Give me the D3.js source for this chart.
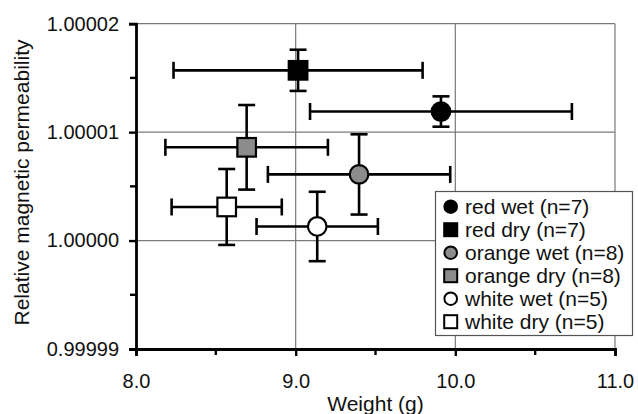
<!DOCTYPE html>
<html><head><meta charset="utf-8">
<script src="https://cdn.jsdelivr.net/npm/d3@7"></script>
<style>
body{margin:0;background:#fff;}
text{font-family:"Liberation Sans",Arial,Helvetica,sans-serif;}
</style></head>
<body><svg id="c" width="638" height="414"></svg>
<script>
const seriesNames = ["red wet (n=7)","red dry (n=7)","orange wet (n=8)","orange dry (n=8)","white wet (n=5)","white dry (n=5)"];
const shapes = ["circle","square","circle","square","circle","square"];
const fills = ["#000000","#000000","#8c8c8c","#8c8c8c","#ffffff","#ffffff"];
const weights = [9.91, 9.015, 9.397, 8.693, 9.135, 8.568];
const weightErr = [0.82, 0.78, 0.571, 0.509, 0.38, 0.345];
const perm = [1.0000119, 1.0000157, 1.0000061, 1.0000086, 1.0000013, 1.0000031];
const permErr = [0.0000014, 0.0000019, 0.0000037, 0.0000039, 0.0000032, 0.0000035];
const xTicks = [8.0, 9.0, 10.0, 11.0];
const xMinor = [8.5, 9.5, 10.5];
const yTicks = [0.99999, 1.00000, 1.00001, 1.00002];
const yMinor = [0.999995, 1.000005, 1.000015];

const svg = d3.select("#c");
const L = 136, R = 615, T = 23.7, B = 349;
const x = d3.scaleLinear().domain([8, 11]).range([L, R]);
const y = d3.scaleLinear().domain([0.99999, 1.00002]).range([B, T]);

// gridlines
const g = svg.append("g");
g.selectAll(".gx").data(xTicks.slice(1)).enter().append("line")
  .attr("x1", d => x(d)).attr("x2", d => x(d)).attr("y1", T).attr("y2", B)
  .attr("stroke", "#7a7a7a").attr("stroke-width", 1.2);
g.selectAll(".gy").data(yTicks.slice(1)).enter().append("line")
  .attr("x1", L).attr("x2", R).attr("y1", d => y(d)).attr("y2", d => y(d))
  .attr("stroke", "#7a7a7a").attr("stroke-width", 1.2);

const data = seriesNames.map((n, i) => ({n, shape: shapes[i], fill: fills[i], x: weights[i], xe: weightErr[i], y: perm[i], ye: permErr[i]}));
const cap = 8.5;
const eb = svg.append("g").attr("stroke", "#000").attr("stroke-width", 2.6).attr("fill", "none");
data.forEach(d => {
  const cx = x(d.x), cy = y(d.y);
  const x0 = x(d.x - d.xe), x1 = x(d.x + d.xe), y0 = y(d.y - d.ye), y1 = y(d.y + d.ye);
  eb.append("line").attr("x1", x0).attr("x2", x1).attr("y1", cy).attr("y2", cy);
  eb.append("line").attr("x1", x0).attr("x2", x0).attr("y1", cy - cap).attr("y2", cy + cap);
  eb.append("line").attr("x1", x1).attr("x2", x1).attr("y1", cy - cap).attr("y2", cy + cap);
  eb.append("line").attr("x1", cx).attr("x2", cx).attr("y1", y0).attr("y2", y1);
  eb.append("line").attr("x1", cx - cap).attr("x2", cx + cap).attr("y1", y0).attr("y2", y0);
  eb.append("line").attr("x1", cx - cap).attr("x2", cx + cap).attr("y1", y1).attr("y2", y1);
});
const mk = svg.append("g");
data.forEach(d => {
  const cx = x(d.x), cy = y(d.y);
  if (d.shape === "circle") {
    mk.append("circle").attr("cx", cx).attr("cy", cy).attr("r", 9.3)
      .attr("fill", d.fill).attr("stroke", "#000").attr("stroke-width", 2.2);
  } else {
    mk.append("rect").attr("x", cx - 9.3).attr("y", cy - 9.3).attr("width", 18.6).attr("height", 18.6)
      .attr("fill", d.fill).attr("stroke", "#000").attr("stroke-width", 2.2);
  }
});

// axes
const xa = svg.append("g").attr("transform", `translate(0,${B})`)
  .call(d3.axisBottom(x).tickValues(xTicks).tickFormat(d3.format(".1f")).tickSize(7).tickPadding(18));
const ya = svg.append("g").attr("transform", `translate(${L},0)`)
  .call(d3.axisLeft(y).tickValues(yTicks).tickFormat(d3.format(".5f")).tickSize(7).tickPadding(10));
[xa, ya].forEach(a => {
  a.select(".domain").attr("stroke", "#000").attr("stroke-width", 2.8);
  a.selectAll(".tick line").attr("stroke", "#000").attr("stroke-width", 2.4);
  a.selectAll(".tick text").attr("font-size", 20).attr("fill", "#111")
    .attr("font-family", '"Liberation Sans",Arial,sans-serif');
});
svg.append("g").selectAll("line").data(xMinor).enter().append("line")
  .attr("x1", d => x(d)).attr("x2", d => x(d)).attr("y1", B).attr("y2", B + 6)
  .attr("stroke", "#000").attr("stroke-width", 2.4);
svg.append("g").selectAll("line").data(yMinor).enter().append("line")
  .attr("x1", L - 6).attr("x2", L).attr("y1", d => y(d)).attr("y2", d => y(d))
  .attr("stroke", "#000").attr("stroke-width", 2.4);

// axis titles
svg.append("text").attr("x", (L + R) / 2).attr("y", 411).attr("text-anchor", "middle")
  .attr("font-size", 21).attr("fill", "#111").text("Weight (g)");
svg.append("text").attr("transform", `translate(29,${182.5}) rotate(-90)`).attr("text-anchor", "middle")
  .attr("font-size", 21).attr("fill", "#111").text("Relative magnetic permeability");

// legend
const lg = svg.append("g");
lg.append("rect").attr("x", 435.5).attr("y", 191.5).attr("width", 197).attr("height", 144)
  .attr("fill", "#fff").attr("stroke", "#555").attr("stroke-width", 1.2);
data.forEach((d, i) => {
  const cy = 206.7 + i * 23;
  if (d.shape === "circle") {
    lg.append("circle").attr("cx", 450.7).attr("cy", cy).attr("r", 6.3)
      .attr("fill", d.fill).attr("stroke", "#000").attr("stroke-width", 2);
  } else {
    lg.append("rect").attr("x", 450.7 - 6.5).attr("y", cy - 6.5).attr("width", 13).attr("height", 13)
      .attr("fill", d.fill).attr("stroke", "#000").attr("stroke-width", 2);
  }
  lg.append("text").attr("x", 465).attr("y", cy + 7.5).attr("font-size", 21).attr("fill", "#111").text(d.n);
});
</script></body></html>
